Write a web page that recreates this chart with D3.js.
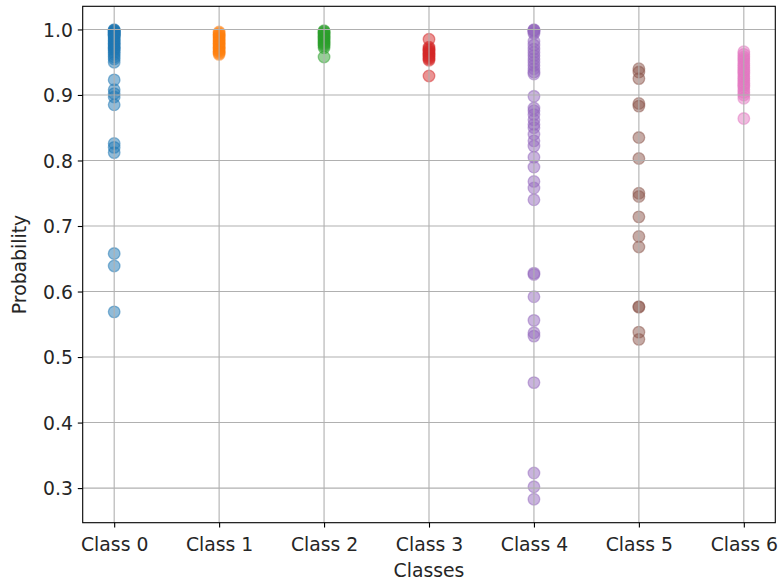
<!DOCTYPE html>
<html>
<head>
<meta charset="utf-8">
<script src="https://cdn.jsdelivr.net/npm/d3@7"></script>
<style>
  html, body { margin: 0; padding: 0; background: #ffffff; }
  svg { display: block; }
  text { font-family: "DejaVu Sans", sans-serif; fill: #262626; }
</style>
</head>
<body>
<svg id="chart" width="781" height="582"></svg>
<script>
// ---------------- data ----------------
const categories = ["Class 0", "Class 1", "Class 2", "Class 3", "Class 4", "Class 5", "Class 6"];
const colors = ["#1f77b4", "#ff7f0e", "#2ca02c", "#d62728", "#9467bd", "#8c564b", "#e377c2"];

const class0 = [0.9995, 0.999, 0.998, 0.997, 0.996, 0.995, 0.994, 0.993, 0.992, 0.991, 0.990, 0.988,
                0.986, 0.984, 0.982, 0.980, 0.978, 0.976, 0.974, 0.972, 0.970, 0.968, 0.965, 0.962,
                0.958, 0.955, 0.950, 0.923, 0.908, 0.902, 0.897, 0.885, 0.826, 0.820, 0.812,
                0.658, 0.639, 0.569];
const class1 = [0.996, 0.994, 0.992, 0.990, 0.988, 0.986, 0.984, 0.982, 0.980, 0.978, 0.976, 0.974,
                0.972, 0.970, 0.968, 0.966, 0.964, 0.962];
const class2 = [0.998, 0.997, 0.995, 0.993, 0.991, 0.989, 0.987, 0.985, 0.983, 0.981, 0.979, 0.977,
                0.975, 0.972, 0.958];
const class3 = [0.985, 0.973, 0.971, 0.969, 0.967, 0.965, 0.963, 0.961, 0.959, 0.957, 0.955, 0.953, 0.929];
const class4 = [0.9995, 0.999, 0.998, 0.996, 0.994, 0.982, 0.976, 0.970, 0.965, 0.960, 0.955, 0.950,
                0.945, 0.940, 0.935, 0.932, 0.898, 0.880, 0.876, 0.870, 0.862, 0.855, 0.850, 0.840,
                0.830, 0.822, 0.805, 0.790, 0.768, 0.758, 0.740, 0.628, 0.626, 0.592, 0.556, 0.537,
                0.532, 0.461, 0.323, 0.302, 0.283];
const class5 = [0.940, 0.935, 0.925, 0.887, 0.883, 0.835, 0.803, 0.750, 0.745, 0.714, 0.684, 0.668,
                0.577, 0.576, 0.538, 0.527];
const class6 = [0.966, 0.962, 0.958, 0.955, 0.952, 0.948, 0.945, 0.942, 0.938, 0.935, 0.932, 0.928,
                0.925, 0.922, 0.918, 0.915, 0.912, 0.908, 0.904, 0.900, 0.895, 0.864];
const seriesValues = [class0, class1, class2, class3, class4, class5, class6];

const yTickValues = [0.3, 0.4, 0.5, 0.6, 0.7, 0.8, 0.9, 1.0];
const xLabel = "Classes";
const yLabel = "Probability";

// ---------------- layout ----------------
const FS = "18.8px";
const svg = d3.select("#chart");
const plot = { left: 82.7, right: 775.3, top: 6.3, bottom: 522.7 };

const allVals = seriesValues.flat();
const vMin = d3.min(allVals), vMax = d3.max(allVals);
const pad = (vMax - vMin) * 0.05;

const x = d3.scaleLinear().domain([-0.3, categories.length - 1 + 0.3]).range([plot.left, plot.right]);
const y = d3.scaleLinear().domain([vMin - pad, vMax + pad]).range([plot.bottom, plot.top]);

// points (drawn below grid, as in matplotlib default)
const ptsG = svg.append("g");
seriesValues.forEach((vals, i) => {
  ptsG.append("g").selectAll("circle").data(vals).join("circle")
    .attr("cx", x(i))
    .attr("cy", d => y(d))
    .attr("r", 5.8)
    .attr("fill", colors[i])
    .attr("fill-opacity", 0.5)
    .attr("stroke", colors[i])
    .attr("stroke-opacity", 0.5)
    .attr("stroke-width", 1.3);
});

// grid
const grid = svg.append("g").attr("stroke", "#b0b0b0").attr("stroke-width", 1.1);
grid.selectAll("line.v").data(categories.map((_, i) => i)).join("line")
  .attr("x1", d => x(d)).attr("x2", d => x(d))
  .attr("y1", plot.top).attr("y2", plot.bottom);
grid.selectAll("line.h").data(yTickValues).join("line")
  .attr("x1", plot.left).attr("x2", plot.right)
  .attr("y1", d => y(d)).attr("y2", d => y(d));

// axes
const xAxis = d3.axisBottom(x)
  .tickValues(categories.map((_, i) => i))
  .tickFormat(i => categories[i])
  .tickSizeInner(4.9).tickSizeOuter(0).tickPadding(4.9);
const gx = svg.append("g").attr("transform", `translate(0,${plot.bottom})`).call(xAxis);
gx.attr("font-size", null).attr("font-family", null);
gx.select(".domain").remove();
gx.selectAll("line").attr("stroke", "#000").attr("stroke-width", 1.1);
gx.selectAll("text").style("font-size", FS).attr("fill", "#262626")
  .attr("y", 28.3).attr("dy", 0);

const yAxis = d3.axisLeft(y)
  .tickValues(yTickValues)
  .tickFormat(d3.format(".1f"))
  .tickSizeInner(4.9).tickSizeOuter(0).tickPadding(4.9);
const gy = svg.append("g").attr("transform", `translate(${plot.left},0)`).call(yAxis);
gy.attr("font-size", null).attr("font-family", null);
gy.select(".domain").remove();
gy.selectAll("line").attr("stroke", "#000").attr("stroke-width", 1.1);
gy.selectAll("text").style("font-size", FS).attr("fill", "#262626")
  .attr("dy", "0.36em");

// frame (spines)
svg.append("rect")
  .attr("x", plot.left).attr("y", plot.top)
  .attr("width", plot.right - plot.left).attr("height", plot.bottom - plot.top)
  .attr("fill", "none").attr("stroke", "#000").attr("stroke-width", 1.1);

// axis labels
svg.append("text")
  .attr("x", (plot.left + plot.right) / 2).attr("y", 577)
  .attr("text-anchor", "middle").style("font-size", FS)
  .text(xLabel);
svg.append("text")
  .attr("transform", `translate(26,${(plot.top + plot.bottom) / 2}) rotate(-90)`)
  .attr("text-anchor", "middle").style("font-size", FS)
  .text(yLabel);
</script>
</body>
</html>
